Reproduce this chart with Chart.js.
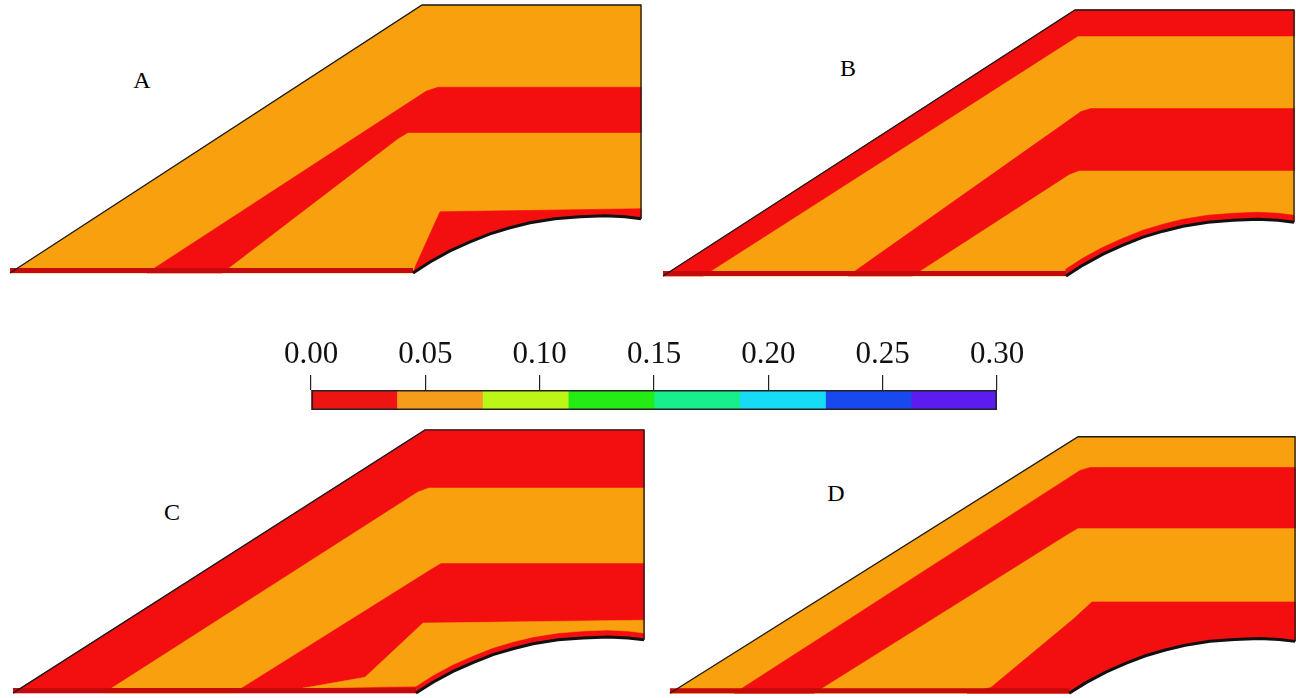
<!DOCTYPE html>
<html>
<head>
<meta charset="utf-8">
<script src="https://cdn.jsdelivr.net/npm/chart.js@4.4.1/dist/chart.umd.min.js"></script>
<style>
  html, body { margin: 0; padding: 0; background: #fff; }
  body { width: 1296px; height: 698px; position: relative; overflow: hidden; }
  canvas, .tag { position: absolute; }
  .tag { font-family: 'Liberation Serif', 'Times New Roman', serif; font-size: 24px; color: #000; transform: translate(-50%, -50%); }
</style>
</head>
<body>
<div class="tag" style="left:142px;top:80px">A</div>
<div class="tag" style="left:848px;top:68px">B</div>
<div class="tag" style="left:172px;top:512px">C</div>
<div class="tag" style="left:836px;top:493px">D</div>
<canvas id="panel-A"></canvas>
<canvas id="panel-B"></canvas>
<canvas id="panel-C"></canvas>
<canvas id="panel-D"></canvas>
<canvas id="scale-bar"></canvas>
<script>
// SECTION GEOMETRY (model units, slope toe at origin, y up)
const slopeTop = [[0, 0], [412, 267], [631, 267], [631, 54]];
const arcX = [403, 420, 440, 460, 480, 500, 520, 545, 570, 595, 615, 631];
const arcY = [0, 11, 22, 31, 39, 45, 50, 54, 56, 57, 56, 54];
const rimY = [7, 18, 29, 38, 46, 52, 57, 61, 63, 64, 63, 61];

// band outlines read from each case
const caseA_red1 = [[137, 0], [416, 181], [428, 185], [631, 185], [631, 140], [398, 140], [388, 134], [212, 0]];
const caseA_red2 = [[403, 0], [406, 8], [430, 61], [631, 64]];
const caseB_red1 = [[0, 0], [412, 267], [631, 267], [631, 241], [415, 241], [40, 0]];
const caseB_red2 = [[185, 0], [418, 165], [428, 168], [631, 168], [631, 106], [416, 106], [406, 102], [249, 0]];
const caseC_org1 = [[91, 0], [405, 204], [416, 208], [631, 208], [631, 132], [428, 132], [418, 126], [220, 0]];
const caseC_org2 = [[290, 5], [352, 16], [410, 71], [631, 74]];
const caseD_red1 = [[65, 0], [414, 232], [424, 235], [631, 235], [631, 172], [412, 172], [402, 166], [145, 0]];
const caseD_red2 = [[300, 0], [324, 6], [407, 77], [426, 95], [631, 95]];

// COLOUR SCALE
const levelEdges = [0, 0.0375, 0.075, 0.1125, 0.15, 0.1875, 0.225, 0.2625, 0.3];
const levelColors = ['#ee1414', '#f59c1c', '#bcf518', '#24ea16', '#18ee8c', '#16dcf6', '#1848ee', '#5c1cf0'];
const tickValues = [0, 0.05, 0.10, 0.15, 0.20, 0.25, 0.30];
const tickLabels = ['0.00', '0.05', '0.10', '0.15', '0.20', '0.25', '0.30'];

const RED = '#f30f0f';
const ORANGE = '#f8a00e';
const DARKRED = '#c40a0a';

const arcPts = arcX.map((x, i) => [x, arcY[i]]);
const rimPts = arcX.map((x, i) => [x, rimY[i]]);
const rev = pts => pts.slice().reverse();
const outline = slopeTop.concat(rev(arcPts));

const panels = [
  {id: 'A', toe: [10, 273], crest: [422, 5], layers: [
    [ORANGE, outline], [RED, caseA_red1], [RED, caseA_red2.concat(rev(arcPts))]]},
  {id: 'B', toe: [663, 276], crest: [1075, 10], layers: [
    [ORANGE, outline], [RED, caseB_red1], [RED, caseB_red2], [RED, arcPts.concat(rev(rimPts))]]},
  {id: 'C', toe: [13, 693], crest: [425, 430], layers: [
    [RED, outline], [ORANGE, caseC_org1], [ORANGE, caseC_org2.concat(rev(rimPts))]]},
  {id: 'D', toe: [670, 693], crest: [1078, 437], layers: [
    [ORANGE, outline], [RED, caseD_red1], [RED, caseD_red2.concat(rev(arcPts))]]}
];

const toXY = pts => pts.map(p => ({x: p[0], y: p[1]}));

const polygon = (pts, color) => ({
  data: toXY(pts.concat([pts[0]])),
  backgroundColor: color,
  borderColor: color,
  borderWidth: 0.6,
  fill: 'shape',
  pointRadius: 0,
  tension: 0
});

const edge = (pts, color, width) => ({
  data: toXY(pts),
  borderColor: color,
  borderWidth: width,
  fill: false,
  pointRadius: 0,
  tension: 0
});

const M = 6; // margin round the section, model units
const X0 = -M, X1 = 631 + M, Y0 = -M, Y1 = 267 + M;

panels.forEach(p => {
  const sx = (p.crest[0] - p.toe[0]) / 412;
  const sy = (p.toe[1] - p.crest[1]) / 267;
  const cv = document.getElementById('panel-' + p.id);
  cv.width = Math.round((X1 - X0) * sx);
  cv.height = Math.round((Y1 - Y0) * sy);
  cv.style.left = (p.toe[0] + X0 * sx) + 'px';
  cv.style.top = (p.crest[1] - M * sy) + 'px';

  const datasets = p.layers.map(l => polygon(l[1], l[0]));
  datasets.push(edge([[0, 2.5], [403, 2.5]], DARKRED, 5));
  datasets.push(edge(arcPts, '#111', 3));
  datasets.push(edge(slopeTop, '#1a1a1a', 1.3));
  datasets.forEach((d, i) => { d.order = datasets.length - i; });

  new Chart(cv, {
    type: 'line',
    data: { datasets: datasets },
    options: {
      responsive: false,
      animation: false,
      events: [],
      layout: { padding: 0 },
      plugins: { legend: { display: false }, tooltip: { enabled: false } },
      scales: {
        x: { type: 'linear', min: X0, max: X1, display: false },
        y: { type: 'linear', min: Y0, max: Y1, display: false }
      }
    }
  });
});

// COLOUR BAR
const barCanvas = document.getElementById('scale-bar');
barCanvas.width = 790;
barCanvas.height = 82;
barCanvas.style.left = '260px';
barCanvas.style.top = '330px';

const barSets = levelColors.map((c, i) => ({
  data: [[levelEdges[i], levelEdges[i + 1]]],
  backgroundColor: c,
  borderWidth: 0,
  barPercentage: 1,
  categoryPercentage: 1,
  grouped: false,
  order: 2
}));
barSets.push({
  data: [[levelEdges[0], levelEdges[levelEdges.length - 1]]],
  backgroundColor: 'rgba(0,0,0,0)',
  borderColor: '#222',
  borderWidth: 1.2,
  borderSkipped: false,
  barPercentage: 1,
  categoryPercentage: 1,
  grouped: false,
  order: 1
});

new Chart(barCanvas, {
  type: 'bar',
  data: { labels: [''], datasets: barSets },
  options: {
    indexAxis: 'y',
    responsive: false,
    animation: false,
    events: [],
    layout: { padding: { left: 51, right: 53, top: 0, bottom: 2 } },
    plugins: { legend: { display: false }, tooltip: { enabled: false } },
    scales: {
      x: {
        position: 'top',
        min: 0,
        max: 0.3,
        afterBuildTicks: s => { s.ticks = tickValues.map(v => ({value: v})); },
        afterFit: s => { s.height = 60; },
        ticks: {
          padding: 2,
          color: '#111',
          font: { family: "'Liberation Serif', 'Times New Roman', serif", size: 31 },
          callback: (v, i) => tickLabels[i]
        },
        grid: { drawOnChartArea: false, tickLength: 15, color: '#222', lineWidth: 1.2 },
        border: { display: false }
      },
      y: { display: false }
    }
  }
});
</script>
</body>
</html>
